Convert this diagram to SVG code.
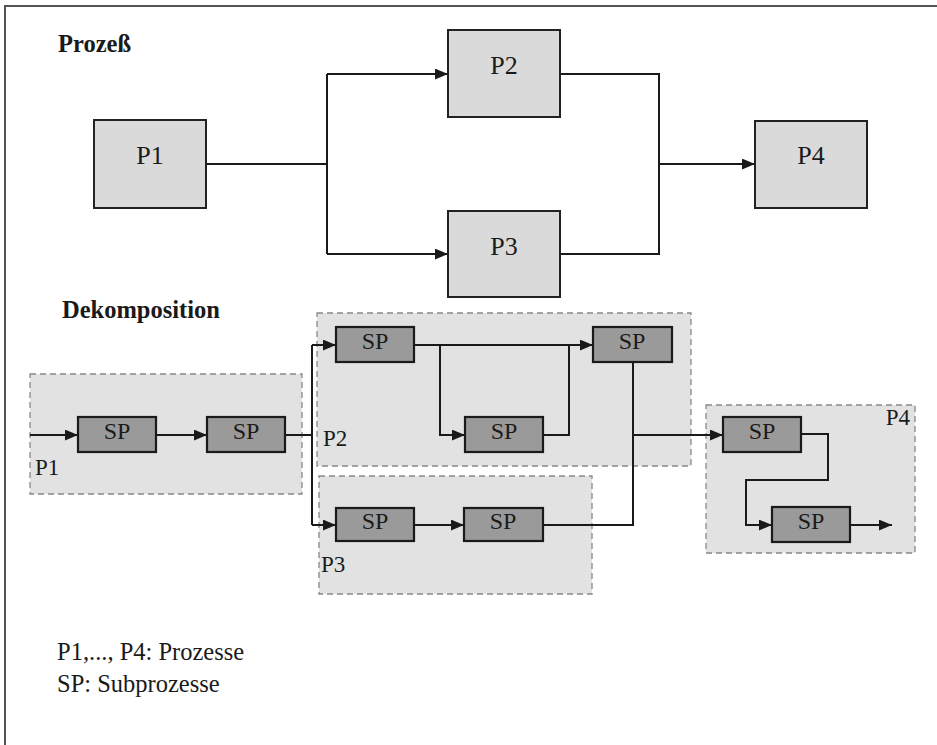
<svg xmlns="http://www.w3.org/2000/svg" width="937" height="745" viewBox="0 0 937 745">
<style>
.frame{fill:none;stroke:#555;stroke-width:2}
.pbox{fill:#dadada;stroke:#222;stroke-width:2}
.region{fill:#e2e2e2;stroke:#888;stroke-width:1.3;stroke-dasharray:6,4}
.sp{fill:#9a9a9a;stroke:#1a1a1a;stroke-width:2.2}
.line{fill:none;stroke:#1a1a1a;stroke-width:2}
.t{font-family:"Liberation Serif","Times New Roman",serif;fill:#1a1a1a}
.title{font-size:24.5px;font-weight:bold}
.pl{font-size:26px;text-anchor:middle}
.spl{font-size:24px;text-anchor:middle}
.rl{font-size:23px}
.leg{font-size:24.5px}
</style>
<defs>
<marker id="arr" viewBox="0 0 12 10" refX="12" refY="5" markerWidth="13" markerHeight="11" markerUnits="userSpaceOnUse" orient="auto">
<path d="M0,0 L12,5 L0,10 z" fill="#1a1a1a"/>
</marker>
</defs>
<rect width="937" height="745" fill="#fff"/>
<path class="frame" d="M5,745 V6 H937"/>

<text class="t title" x="58" y="52">Prozeß</text>
<text class="t title" x="62" y="318">Dekomposition</text>

<g id="regions">
<g id="R1"><rect class="region" x="30" y="374" width="272" height="120"/><text class="t rl" x="35" y="475">P1</text></g>
<g id="R2"><rect class="region" x="317" y="313" width="374" height="153"/><text class="t rl" x="323" y="446">P2</text></g>
<g id="R3"><rect class="region" x="319" y="476" width="273" height="118"/><text class="t rl" x="321" y="572">P3</text></g>
<g id="R4"><rect class="region" x="706" y="405" width="209" height="148"/><text class="t rl" x="910" y="425" text-anchor="end">P4</text></g>
</g>

<g id="connectors">
<path class="line" d="M206,164 H327"/>
<path class="line" d="M327,74 V254"/>
<path class="line" d="M327,74 H448" marker-end="url(#arr)"/>
<path class="line" d="M327,254 H448" marker-end="url(#arr)"/>
<path class="line" d="M560,74 H659 V254 H560"/>
<path class="line" d="M659,164 H755" marker-end="url(#arr)"/>

<path class="line" d="M30,435 H78" marker-end="url(#arr)"/>
<path class="line" d="M156,435 H207" marker-end="url(#arr)"/>
<path class="line" d="M285,435 H312"/>
<path class="line" d="M312,345 V525"/>
<path class="line" d="M312,345 H336" marker-end="url(#arr)"/>
<path class="line" d="M312,525 H336" marker-end="url(#arr)"/>
<path class="line" d="M414,345 H593" marker-end="url(#arr)"/>
<path class="line" d="M440,345 V435 H465" marker-end="url(#arr)"/>
<path class="line" d="M543,435 H569 V345"/>
<path class="line" d="M414,525 H464" marker-end="url(#arr)"/>
<path class="line" d="M543,525 H633 V362"/>
<path class="line" d="M633,435 H723" marker-end="url(#arr)"/>
<path class="line" d="M801,434 H828 V480 H746 V525 H772" marker-end="url(#arr)"/>
<path class="line" d="M850,525 H892" marker-end="url(#arr)"/>
</g>

<g id="P1"><rect class="pbox" x="94" y="120" width="112" height="88"/><text class="t pl" x="150" y="164">P1</text></g>
<g id="P2"><rect class="pbox" x="448" y="30" width="112" height="87"/><text class="t pl" x="504" y="74">P2</text></g>
<g id="P3"><rect class="pbox" x="448" y="211" width="112" height="86"/><text class="t pl" x="504" y="255">P3</text></g>
<g id="P4"><rect class="pbox" x="755" y="121" width="112" height="87"/><text class="t pl" x="811" y="164">P4</text></g>

<g id="SP1"><rect class="sp" x="78" y="417" width="78" height="35"/><text class="t spl" x="117" y="439">SP</text></g>
<g id="SP2"><rect class="sp" x="207" y="417" width="78" height="35"/><text class="t spl" x="246" y="439">SP</text></g>
<g id="SP3"><rect class="sp" x="336" y="327" width="78" height="35"/><text class="t spl" x="375" y="349">SP</text></g>
<g id="SP4"><rect class="sp" x="465" y="417" width="78" height="35"/><text class="t spl" x="504" y="439">SP</text></g>
<g id="SP5"><rect class="sp" x="593" y="327" width="79" height="35"/><text class="t spl" x="632" y="349">SP</text></g>
<g id="SP6"><rect class="sp" x="336" y="508" width="78" height="33"/><text class="t spl" x="375" y="529">SP</text></g>
<g id="SP7"><rect class="sp" x="464" y="508" width="79" height="33"/><text class="t spl" x="503" y="529">SP</text></g>
<g id="SP8"><rect class="sp" x="723" y="417" width="78" height="35"/><text class="t spl" x="762" y="439">SP</text></g>
<g id="SP9"><rect class="sp" x="772" y="507" width="78" height="35"/><text class="t spl" x="811" y="529">SP</text></g>

<g id="legend">
<text class="t leg" x="57" y="660">P1,..., P4: Prozesse</text>
<text class="t leg" x="57" y="692">SP: Subprozesse</text>
</g>
</svg>
